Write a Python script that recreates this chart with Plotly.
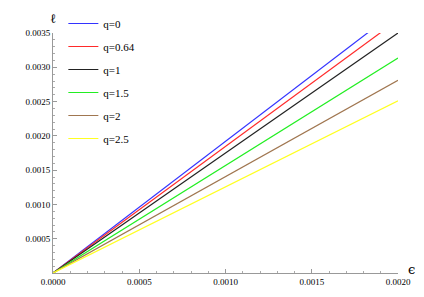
import plotly.graph_objects as go

eps = [0.0, 0.0005, 0.0010, 0.0015, 0.0020]
names = ["q=0", "q=0.64", "q=1", "q=1.5", "q=2", "q=2.5"]
colors = ["#3333ff", "#ff2a2a", "#222222", "#22ee22", "#a07650", "#ffff22"]
ell_q0 = [0.0, 0.00096, 0.00192, 0.00288, 0.00384]
ell_q064 = [0.0, 0.000923, 0.001846, 0.002769, 0.003692]
ell_q1 = [0.0, 0.000875, 0.00175, 0.002625, 0.0035]
ell_q15 = [0.0, 0.000784, 0.001567, 0.002351, 0.003134]
ell_q2 = [0.0, 0.000702, 0.001405, 0.002107, 0.002809]
ell_q25 = [0.0, 0.000628, 0.001255, 0.001883, 0.00251]
series = [ell_q0, ell_q064, ell_q1, ell_q15, ell_q2, ell_q25]

x_ticks = [0.0, 0.0005, 0.0010, 0.0015, 0.0020]
y_ticks = [0.0005, 0.0010, 0.0015, 0.0020, 0.0025, 0.0030, 0.0035]

fig = go.Figure()
for n, c, s in zip(names, colors, series):
    fig.add_trace(go.Scatter(x=eps, y=s, mode="lines", name=n, legendgroup=n,
                             line=dict(color=c, width=1.2)))

axis_common = dict(
    showgrid=False, zeroline=False, showline=True, linecolor="#999999", linewidth=1,
    ticks="inside", ticklen=4, tickcolor="#999999", tickwidth=1,
    tickfont=dict(family="Liberation Serif", size=9, color="#000000"),
    tickformat=".4f",
    minor=dict(ticks="inside", ticklen=2, tickcolor="#aaaaaa", dtick=0.0001),
)

fig.update_layout(
    width=424, height=297,
    margin=dict(l=45, r=34, t=25, b=32, autoexpand=False),
    paper_bgcolor="white", plot_bgcolor="white",
    font=dict(family="Liberation Serif", color="#000000"),
    xaxis=dict(range=[0, 0.002], tickvals=x_ticks, **axis_common),
    yaxis=dict(range=[0, 0.0035], tickvals=y_ticks, **axis_common),
    legend=dict(x=0.03, y=1.1, xanchor="left", yanchor="top",
                font=dict(family="Liberation Serif", size=11, color="#000000"),
                bgcolor="rgba(0,0,0,0)", tracegroupgap=4, itemwidth=30),
    showlegend=True,
    annotations=[
        dict(text="ϵ", xref="paper", yref="paper", x=1.04, y=0.015, xanchor="center",
             yanchor="middle", showarrow=False,
             font=dict(family="DejaVu Serif", size=13, color="#000000")),
        dict(text="ℓ", xref="paper", yref="paper", x=0.0, y=1.02, xanchor="center",
             yanchor="bottom", showarrow=False,
             font=dict(family="Liberation Serif", size=13, color="#000000")),
    ],
)

fig.write_html("out.html")
